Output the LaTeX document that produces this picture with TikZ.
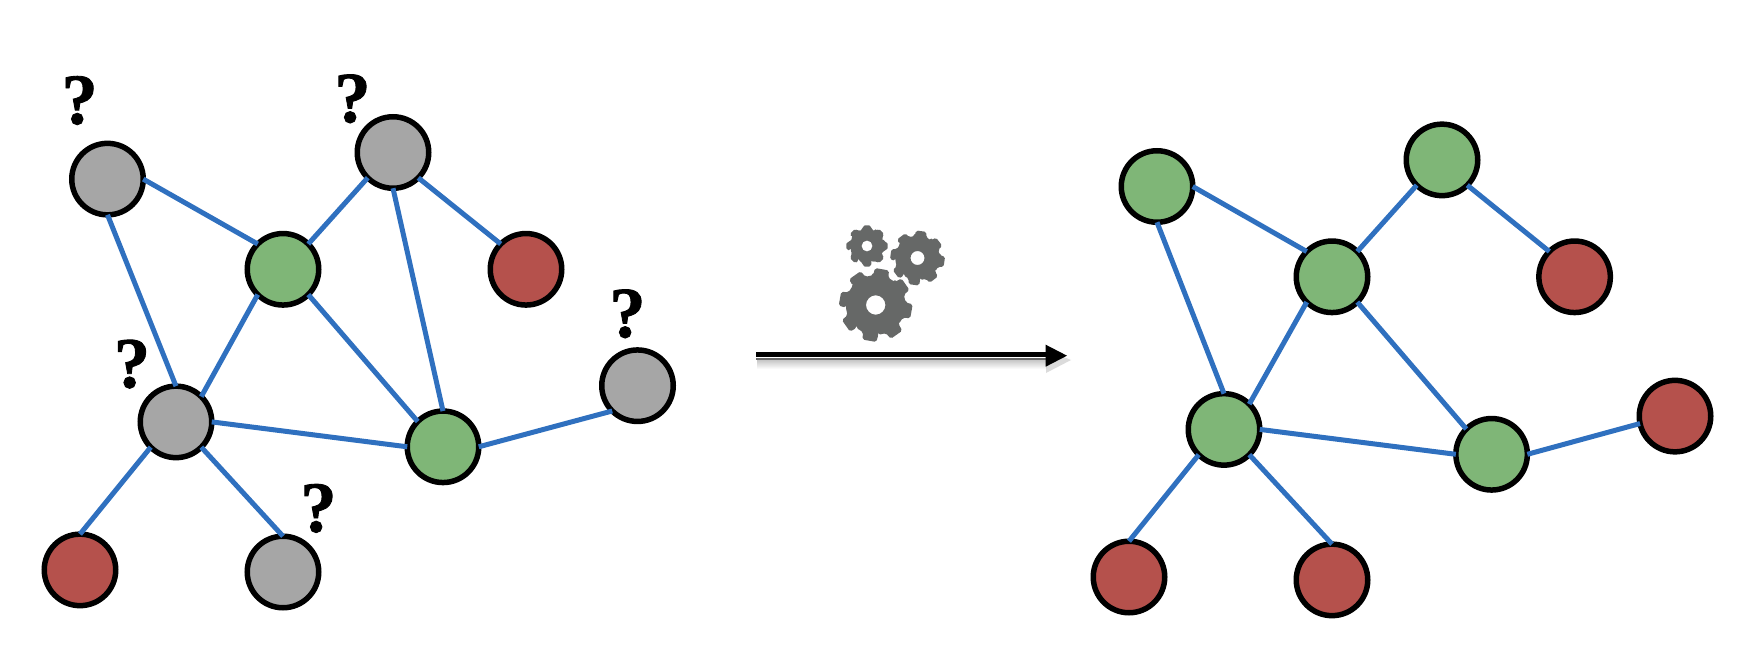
\documentclass[tikz,border=0pt]{standalone}
\usepackage{fontspec}
\newfontfamily\qfont[BoldFeatures={FakeBold=1.2}]{Liberation Serif}
\usetikzlibrary{arrows.meta}
\definecolor{edgeblue}{HTML}{2F70BF}
\definecolor{ngreen}{HTML}{7FB677}
\definecolor{nred}{HTML}{B5514C}
\definecolor{ngray}{HTML}{A6A6A6}
\definecolor{geargray}{HTML}{666867}
\tikzset{
  vertex/.style={circle,draw=black,line width=5.5pt,minimum size=71.5pt,inner sep=0pt,outer sep=0pt},
  gn/.style={vertex,fill=ngreen},
  rn/.style={vertex,fill=nred},
  an/.style={vertex,fill=ngray},
  link/.style={draw=edgeblue,line width=5pt},
  qmark/.style={inner sep=0pt,outer sep=0pt,font=\qfont\bfseries\fontsize{72}{72}\selectfont},
}
\newcommand{\cogwheel}[5]{% cx, cy, outer r, hole r, tooth offset
  \fill[geargray,even odd rule,rounded corners=1.8pt,shift={(#1,#2)}]
    (#5-15:0.81*#3)
    \foreach \k in {0,45,...,315}{
      -- (#5+\k-15:0.81*#3) -- (#5+\k-11:#3) -- (#5+\k+11:#3) -- (#5+\k+15:0.81*#3) -- (#5+\k+30:0.81*#3)
    } -- cycle
    (0:#4) arc (0:360:#4);
}
\begin{document}
\begin{tikzpicture}[x=1pt,y=-1pt]
\useasboundingbox (0,0) rectangle (1746,652);
\begin{scope}[yshift=-1.1pt]
% left graph
\node[an] (a1) at (107.5,178) {};
\node[an] (b1) at (393,151.4) {};
\node[gn] (c1) at (283,268.2) {};
\node[rn] (d1) at (526,268.2) {};
\node[an] (e1) at (176,420.8) {};
\node[gn] (f1) at (443,445.7) {};
\node[an] (g1) at (637.5,384.6) {};
\node[rn] (h1) at (80,568.8) {};
\node[an] (i1) at (283,570.9) {};
\foreach \u/\v in {a1.east/c1.north west,a1.south/e1.north,b1.south west/c1.north east,b1.south east/d1.north west,b1.south/f1.north,c1.south west/e1.north east,c1.south east/f1.north west,e1.east/f1.west,f1.east/g1.south west,e1.south west/h1.north,e1.south east/i1.north}
  \path[link] (\u) -- (\v);
\node[qmark] (qa) at (79.6,99.4) {?};
\node[qmark] (qb) at (352.5,97.7) {?};
\node[qmark] (qe) at (132,363) {?};
\node[qmark] (qi) at (318.5,507.3) {?};
\node[qmark] (qg) at (627.5,312.7) {?};
% right graph
\node[gn] (a2) at (1157,185.4) {};
\node[gn] (b2) at (1442,158.8) {};
\node[gn] (c2) at (1332,275.7) {};
\node[rn] (d2) at (1574.6,275.7) {};
\node[gn] (e2) at (1224,428.3) {};
\node[gn] (f2) at (1491.6,453.2) {};
\node[rn] (g2) at (1675,415) {};
\node[rn] (h2) at (1129,575.9) {};
\node[rn] (i2) at (1332,578.8) {};
\foreach \u/\v in {a2.east/c2.north west,a2.south/e2.north,b2.south west/c2.north east,b2.south east/d2.north west,c2.south west/e2.north east,c2.south east/f2.north west,e2.east/f2.west,f2.east/g2.192,e2.south west/h2.north,e2.south east/i2.north}
  \path[link] (\u) -- (\v);
\end{scope}
% arrow
\coordinate (s) at (756,354.2);
\coordinate (e) at (1047,354.2);
\coordinate (t) at (1067,355.7);
\fill[top color=black!22,bottom color=white] (757,360) rectangle (1047,369);
\fill[black,opacity=.14] (1046,350) -- (1071,360) -- (1046,373) -- cycle;
\draw[black!60,line width=1.5pt] (756,359) -- (1047,359);
\fill[black] (1045.7,344.7) -- (t) -- (1045.7,366.7) -- cycle;
\draw[black,line width=5pt] (s) -- (e);
% gears
\cogwheel{875.7}{305}{37}{9.7}{10}
\cogwheel{917.5}{258}{27.6}{7}{8}
\cogwheel{867}{246}{21}{5.5}{0}
\end{tikzpicture}
\end{document}
